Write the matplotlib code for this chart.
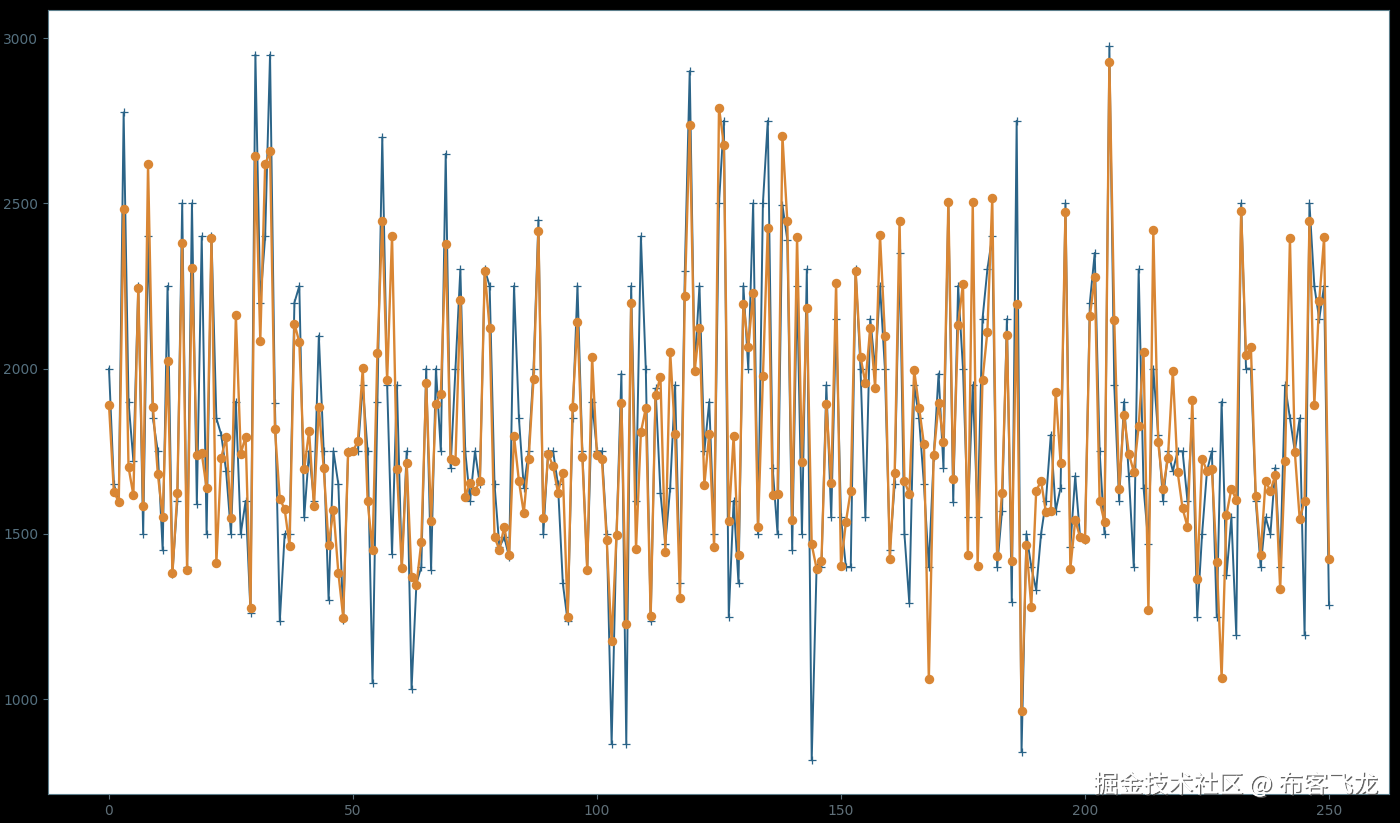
import numpy as np
import matplotlib
matplotlib.use('Agg')
import matplotlib.pyplot as plt
import matplotlib.patheffects as pe

# gia tri doc tu anh
blue_vals = [2000, 1650, 1600, 2775, 1900, 1720, 2250, 1500, 2400, 1850,
             1750, 1450, 2250, 1380, 1600, 2500, 1400, 2500, 1590, 2400,
             1500, 2400, 1850, 1800, 1690, 1500, 1900, 1500, 1600, 1262,
             2950, 2200, 2400, 2950, 1895, 1235, 1500, 1500, 2200, 2250,
             1550, 1750, 1600, 2100, 1750, 1300, 1750, 1650, 1240, 1750,
             1750, 1750, 1950, 1750, 1050, 1900, 2700, 1950, 1440, 1950,
             1400, 1750, 1030, 1350, 1400, 2000, 1390, 2000, 1750, 2650,
             1700, 2000, 2300, 1750, 1600, 1750, 1650, 2300, 2250, 1650,
             1460, 1490, 1430, 2250, 1850, 1640, 1750, 2000, 2450, 1500,
             1750, 1750, 1650, 1350, 1235, 1850, 2250, 1750, 1390, 1900,
             1750, 1750, 1500, 865, 1500, 1985, 865, 2250, 1600, 2400,
             2000, 1235, 1940, 1625, 1470, 1640, 1950, 1350, 2295, 2900,
             2000, 2250, 1750, 1900, 1500, 2500, 2750, 1250, 1600, 1350,
             2250, 2000, 2500, 1500, 2500, 2750, 1700, 1500, 2495, 2390,
             1450, 2250, 1500, 2300, 815, 1400, 1400, 1950, 1550, 2150,
             1550, 1400, 1400, 2300, 2000, 1550, 2150, 2000, 2250, 2000,
             1450, 1650, 2350, 1500, 1290, 1950, 1850, 1650, 1400, 1733,
             1985, 1700, 2500, 1595, 2250, 2000, 1550, 1950, 1550, 2150,
             2300, 2400, 1400, 1570, 2150, 1295, 2750, 840, 1500, 1400,
             1330, 1500, 1600, 1800, 1570, 1640, 2500, 1460, 1675, 1490,
             1480, 2200, 2350, 1750, 1500, 2975, 1950, 1600, 1900, 1675,
             1400, 2300, 1640, 1470, 2000, 1800, 1600, 1750, 1690, 1750,
             1750, 1600, 1850, 1250, 1500, 1690, 1750, 1250, 1900, 1375,
             1550, 1195, 2500, 2000, 2000, 1600, 1400, 1550, 1500, 1700,
             1400, 1950, 1850, 1750, 1850, 1195, 2500, 2250, 2150, 2250,
             1285]

orange_vals = [1890, 1627, 1597, 2482, 1702, 1617, 2244, 1585, 2618, 1885,
               1682, 1551, 2024, 1381, 1623, 2381, 1390, 2305, 1738, 1745,
               1638, 2395, 1411, 1730, 1792, 1547, 2161, 1743, 1794, 1275,
               2644, 2084, 2618, 2657, 1818, 1606, 1575, 1463, 2136, 2080,
               1695, 1811, 1584, 1885, 1698, 1467, 1573, 1382, 1247, 1747,
               1750, 1781, 2002, 1598, 1450, 2047, 2448, 1965, 2402, 1695,
               1396, 1715, 1370, 1345, 1475, 1955, 1540, 1893, 1924, 2378,
               1728, 1720, 2208, 1613, 1655, 1630, 1660, 2294, 2122, 1490,
               1452, 1522, 1436, 1796, 1660, 1563, 1728, 1970, 2415, 1548,
               1741, 1705, 1625, 1685, 1250, 1885, 2142, 1732, 1390, 2036,
               1738, 1727, 1480, 1175, 1497, 1897, 1228, 2198, 1455, 1808,
               1880, 1252, 1920, 1975, 1445, 2050, 1802, 1307, 2220, 2736,
               1992, 2124, 1648, 1803, 1460, 2790, 2677, 1540, 1797, 1435,
               2197, 2066, 2230, 1520, 1978, 2426, 1618, 1621, 2704, 2447,
               1541, 2398, 1718, 2183, 1468, 1395, 1418, 1892, 1655, 2259,
               1403, 1535, 1631, 2294, 2036, 1956, 2124, 1942, 2403, 2100,
               1425, 1685, 2448, 1660, 1620, 1995, 1882, 1771, 1060, 1738,
               1895, 1779, 2503, 1665, 2133, 2257, 1437, 2503, 1403, 1965,
               2112, 2516, 1433, 1625, 2101, 1418, 2197, 963, 1465, 1278,
               1630, 1660, 1565, 1570, 1930, 1715, 2475, 1395, 1542, 1490,
               1485, 2158, 2278, 1600, 1535, 2928, 2147, 1635, 1860, 1742,
               1688, 1825, 2050, 1270, 2420, 1777, 1637, 1730, 1993, 1686,
               1577, 1522, 1905, 1362, 1727, 1690, 1697, 1415, 1065, 1558,
               1637, 1603, 2478, 2040, 2065, 1615, 1437, 1660, 1630, 1678,
               1333, 1722, 2395, 1748, 1545, 1600, 2446, 1890, 2205, 2397,
               1425]

watermark = '掘金技术社区 @ 布客飞龙'

x_blue = np.arange(len(blue_vals))
x_orange = np.arange(len(orange_vals))

fig = plt.figure(figsize=(14, 8.23), dpi=100, facecolor='black')
ax = fig.add_axes([48 / 1400, 29 / 823, 1341 / 1400, 784 / 823])

ax.plot(x_blue, blue_vals, color='#2b6488', marker='+', markersize=5.5,
        markeredgewidth=0.9, linewidth=1.4)
ax.plot(x_orange, orange_vals, color='#d98634', marker='o', markersize=5.8, linewidth=1.7)

ax.set_xlim(-12.5, 262.3)
ax.set_ylim(713, 3085)
ax.set_xticks([0, 50, 100, 150, 200, 250])
ax.set_yticks([1000, 1500, 2000, 2500, 3000])
ax.tick_params(axis='y', colors='#55707f', labelsize=10)
ax.tick_params(axis='x', colors='#5f6f78', labelsize=10)
for s in ax.spines.values():
    s.set_color('#5d7f8c')

# chu watermark
t = fig.text(1378 / 1400, 38 / 823, watermark, ha='right', va='center',
             color='white', fontsize=18, family=['Noto Sans CJK SC', 'DejaVu Sans'])
t.set_path_effects([pe.withSimplePatchShadow(offset=(1, -1), shadow_rgbFace='#555555', alpha=0.9),
                    pe.Normal()])

fig.savefig('out.png', dpi=100, facecolor=fig.get_facecolor())
